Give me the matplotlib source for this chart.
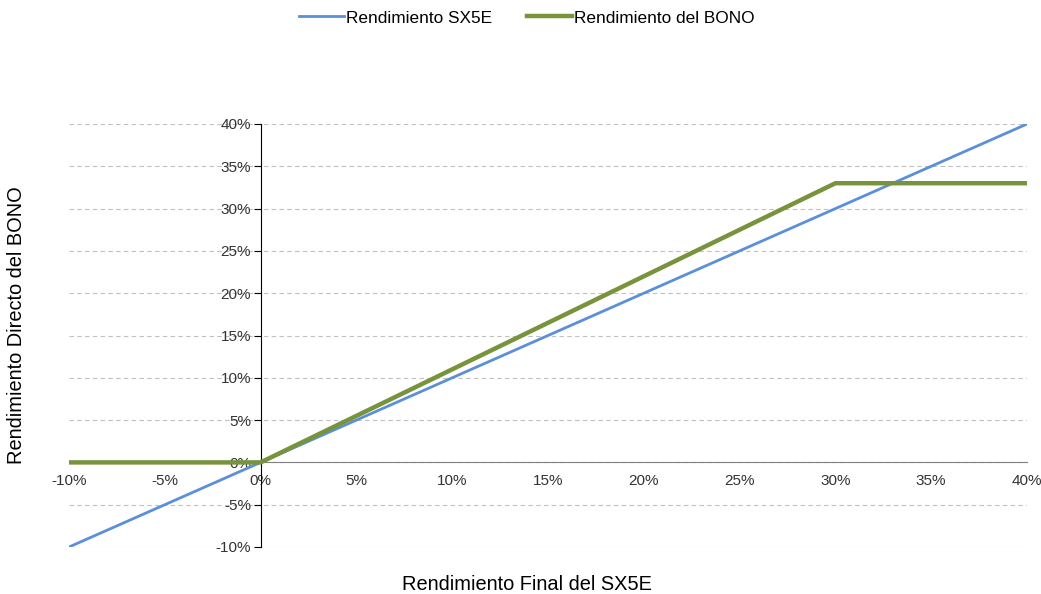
import matplotlib.pyplot as plt
from matplotlib.ticker import FuncFormatter

plt.rcParams['font.family'] = ['Liberation Sans', 'DejaVu Sans']

# datos (en %)
x_sx5e = [-10, 40]
y_sx5e = [-10, 40]
x_bono = [-10, 0, 30, 40]
y_bono = [0, 0, 33, 33]

ticks = [-10, -5, 0, 5, 10, 15, 20, 25, 30, 35, 40]

fig = plt.figure(figsize=(10.41, 5.94), dpi=100)
ax = fig.add_axes([69 / 1041, 1 - 547 / 594, (1027 - 69) / 1041, (547 - 124) / 594])

ax.plot(x_sx5e, y_sx5e, color='#5b8fd8', lw=2.0, label='Rendimiento SX5E', zorder=3)
ax.plot(x_bono, y_bono, color='#77933c', lw=3.2, label='Rendimiento del BONO', zorder=4)

ax.set_xlim(-10, 40)
ax.set_ylim(-10, 40)
ax.set_xticks(ticks)
ax.set_yticks(ticks)
fmt = FuncFormatter(lambda v, p: f'{v:.0f}%')
ax.xaxis.set_major_formatter(fmt)
ax.yaxis.set_major_formatter(fmt)

ax.spines['left'].set_position(('data', 0))
ax.spines['bottom'].set_position(('data', 0))
ax.spines['right'].set_visible(False)
ax.spines['top'].set_visible(False)
ax.spines['left'].set_color('black')
ax.spines['bottom'].set_color('#808080')

ax.tick_params(axis='y', direction='out', length=5, color='black', labelsize=11, labelcolor='#333333', pad=2)
ax.tick_params(axis='x', length=0, labelsize=11, labelcolor='#333333', pad=8)

ax.grid(axis='y', color='#c0c0c0', linestyle=(0, (4, 3)), lw=0.8)
ax.set_axisbelow(True)

fig.text(527 / 1041, 1 - 585 / 594, 'Rendimiento Final del SX5E', ha='center', va='center', fontsize=14.4)
fig.text(17 / 1041, 1 - 325 / 594, 'Rendimiento Directo del BONO', ha='center', va='center',
         rotation=90, fontsize=14.4)

fig.legend(loc='center', bbox_to_anchor=(527 / 1041, 1 - 18 / 594), ncol=2, frameon=False,
           fontsize=12.4, handlelength=2.6, handletextpad=0.15, columnspacing=2.0)

fig.savefig('out.png', dpi=100)
